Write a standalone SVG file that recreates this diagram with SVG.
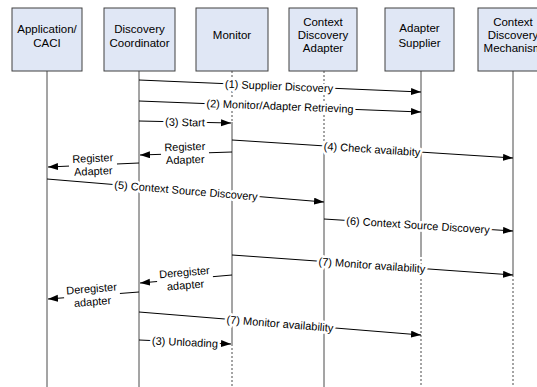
<svg xmlns="http://www.w3.org/2000/svg" width="537" height="387" viewBox="0 0 537 387">
<style>
.box{fill:#e0e7f5;stroke:#404040;stroke-width:1}
.bt{font-family:"Liberation Sans",Arial,sans-serif;font-size:11.5px;fill:#000;text-anchor:middle}
.life{stroke:#4a4a4a;stroke-width:1;fill:none}
.dash{stroke-dasharray:2,2}
.msg{stroke:#000;stroke-width:1;fill:none}
.lt{font-family:"Liberation Sans",Arial,sans-serif;font-size:11px;fill:#000;text-anchor:middle;stroke:#fff;stroke-width:5px;stroke-linejoin:round;paint-order:stroke}
.lt2{font-family:"Liberation Sans",Arial,sans-serif;font-size:11px;fill:#000;text-anchor:middle}
.bg{fill:#fff}
</style>
<defs>
<marker id="ah" markerUnits="userSpaceOnUse" markerWidth="11" markerHeight="8" refX="10" refY="3.5" orient="auto">
<path d="M0,0 L10,3.5 L0,7 z" fill="#000"/>
</marker>
</defs>
<rect width="537" height="387" fill="#fff"/>

<g id="lifelines">
<line class="life" x1="47" y1="71" x2="47" y2="387"/>
<line class="life" x1="139" y1="71" x2="139" y2="387"/>
<line class="life dash" x1="232" y1="71" x2="232" y2="122"/>
<line class="life" x1="232" y1="122" x2="232" y2="344"/>
<line class="life dash" x1="232" y1="344" x2="232" y2="387"/>
<line class="life dash" x1="324" y1="71" x2="324" y2="150"/>
<line class="life" x1="324" y1="150" x2="324" y2="387"/>
<line class="life" x1="421" y1="71" x2="421" y2="255"/>
<line class="life dash" x1="421" y1="255" x2="421" y2="387"/>
<line class="life" x1="513" y1="71" x2="513" y2="275"/>
<line class="life dash" x1="513" y1="275" x2="513" y2="387"/>
</g>

<g id="app">
<rect class="box" x="12" y="8" width="70" height="63"/>
<text class="bt" x="47" y="33">Application/</text>
<text class="bt" x="47" y="47">CACI</text>
</g>
<g id="coordinator">
<rect class="box" x="104" y="8" width="71" height="63"/>
<text class="bt" x="139.5" y="33">Discovery</text>
<text class="bt" x="139.5" y="47">Coordinator</text>
</g>
<g id="monitor">
<rect class="box" x="196" y="8" width="72" height="63"/>
<text class="bt" x="232" y="39">Monitor</text>
</g>
<g id="cda">
<rect class="box" x="289" y="8" width="68" height="63"/>
<text class="bt" x="323" y="26">Context</text>
<text class="bt" x="323" y="39">Discovery</text>
<text class="bt" x="323" y="52">Adapter</text>
</g>
<g id="supplier">
<rect class="box" x="385" y="8" width="69" height="63"/>
<text class="bt" x="419.5" y="32">Adapter</text>
<text class="bt" x="419.5" y="47">Supplier</text>
</g>
<g id="cdm">
<rect class="box" x="478" y="8" width="70" height="63"/>
<text class="bt" x="513" y="26">Context</text>
<text class="bt" x="513" y="39">Discovery</text>
<text class="bt" x="513" y="52">Mechanism</text>
</g>

<g id="connectors">
<line class="msg" x1="139" y1="80" x2="421" y2="92" marker-end="url(#ah)"/>
<line class="msg" x1="139" y1="101" x2="421" y2="112" marker-end="url(#ah)"/>
<line class="msg" x1="139" y1="121" x2="231" y2="123" marker-end="url(#ah)"/>
<line class="msg" x1="232" y1="140" x2="513" y2="158" marker-end="url(#ah)"/>
<line class="msg" x1="232" y1="152" x2="140" y2="155" marker-end="url(#ah)"/>
<line class="msg" x1="139" y1="163" x2="48" y2="167" marker-end="url(#ah)"/>
<line class="msg" x1="47" y1="179" x2="324" y2="202" marker-end="url(#ah)"/>
<line class="msg" x1="324" y1="219" x2="513" y2="231" marker-end="url(#ah)"/>
<line class="msg" x1="232" y1="255" x2="513" y2="275" marker-end="url(#ah)"/>
<line class="msg" x1="232" y1="275" x2="140" y2="283" marker-end="url(#ah)"/>
<line class="msg" x1="139" y1="292" x2="48" y2="299" marker-end="url(#ah)"/>
<line class="msg" x1="139" y1="312" x2="421" y2="335" marker-end="url(#ah)"/>
<line class="msg" x1="139" y1="340" x2="231" y2="344" marker-end="url(#ah)"/>

<g transform="translate(279,86) rotate(2.44)"><text class="lt" x="0" y="4">(1) Supplier Discovery</text></g>
<g transform="translate(280,106) rotate(2.23)"><text class="lt" x="0" y="4">(2) Monitor/Adapter Retrieving</text></g>
<g transform="translate(185,122) rotate(1.25)"><text class="lt" x="0" y="4">(3) Start</text></g>
<g transform="translate(372,149) rotate(3.67)"><text class="lt" x="0" y="4">(4) Check availabity</text></g>
<g transform="translate(185,153.5) rotate(-1.85)"><rect class="bg" x="-24" y="-4" width="48" height="8"/><text class="lt2" x="0" y="-3">Register</text><text class="lt2" x="0" y="10">Adapter</text></g>
<g transform="translate(93,165) rotate(-2.49)"><rect class="bg" x="-24" y="-4" width="48" height="8"/><text class="lt2" x="0" y="-3">Register</text><text class="lt2" x="0" y="10">Adapter</text></g>
<g transform="translate(186,190.5) rotate(4.75)"><text class="lt" x="0" y="4">(5) Context Source Discovery</text></g>
<g transform="translate(418,225) rotate(3.63)"><text class="lt" x="0" y="4">(6) Context Source Discovery</text></g>
<g transform="translate(372,265) rotate(4.07)"><text class="lt" x="0" y="4">(7) Monitor availability</text></g>
<g transform="translate(185,279) rotate(-4.92)"><rect class="bg" x="-28" y="-4" width="56" height="8"/><text class="lt2" x="0" y="-3">Deregister</text><text class="lt2" x="0" y="10">adapter</text></g>
<g transform="translate(92,295.5) rotate(-4.35)"><rect class="bg" x="-28" y="-4" width="56" height="8"/><text class="lt2" x="0" y="-3">Deregister</text><text class="lt2" x="0" y="10">adapter</text></g>
<g transform="translate(280,323.5) rotate(4.66)"><text class="lt" x="0" y="4">(7) Monitor availability</text></g>
<g transform="translate(185,342) rotate(2.49)"><text class="lt" x="0" y="4">(3) Unloading</text></g>
</g>
</svg>
